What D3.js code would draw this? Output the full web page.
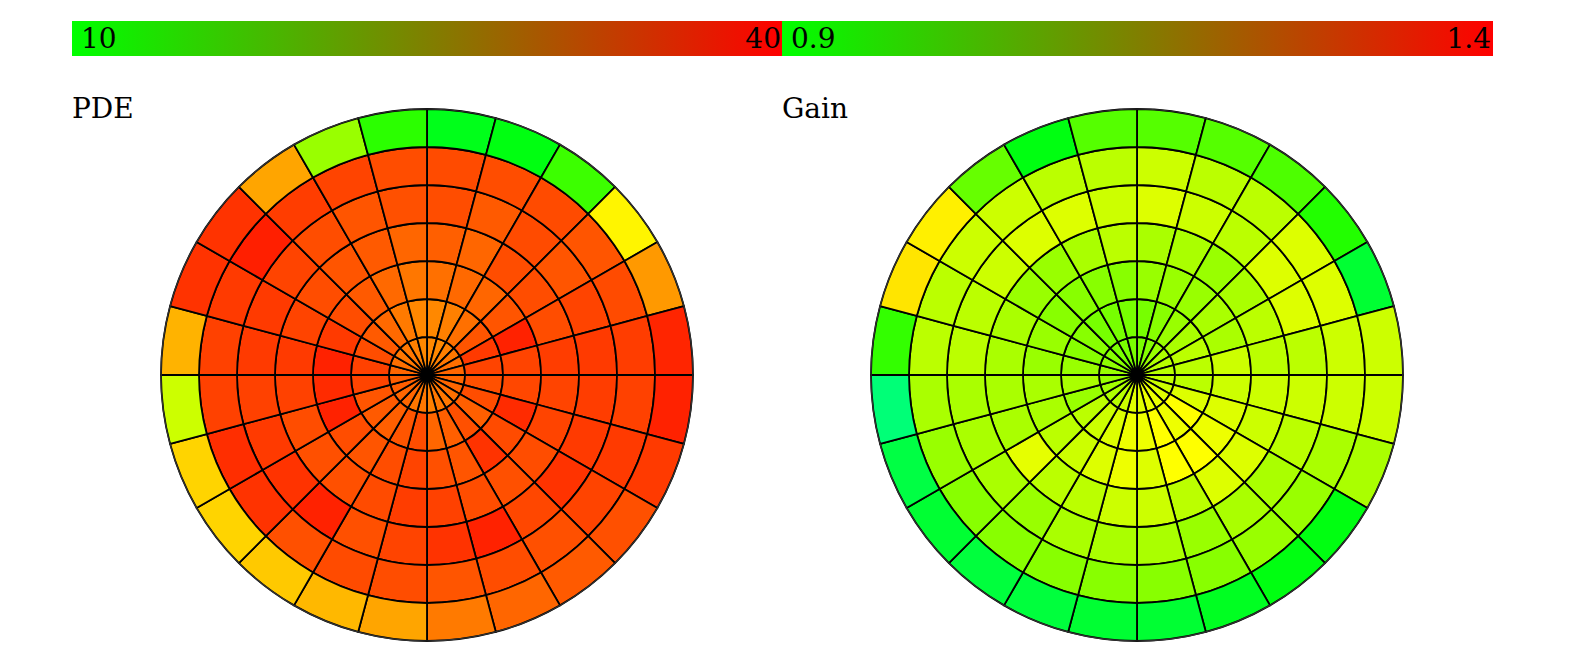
<!DOCTYPE html>
<html>
<head>
<meta charset="utf-8">
<script src="https://cdn.jsdelivr.net/npm/d3@7"></script>
<style>
  html, body { margin: 0; padding: 0; background: #fff; }
  svg { display: block; }
  text { font-family: "DejaVu Serif", serif; }
</style>
</head>
<body>
<svg id="chart" width="1585" height="658"></svg>
<script>
// 24 angular sectors (15° each, clockwise from 12 o'clock) and 7 radial rings (inner → outer)
const sectorCount = 24;
const ringCount = 7;

// PDE per ring, sectors 0..23
const pdeRing0 = [32, 32, 32.5, 33, 33.5, 34, 34, 34, 33.5, 33, 33, 32.5, 33, 33, 34, 34, 34.5, 34.5, 34, 33.5, 33, 33, 32.5, 32];
const pdeRing1 = [32, 32.5, 33.4, 35, 36.6, 36, 35.3, 35.5, 34.4, 35.3, 34.4, 34, 35.5, 35, 34.4, 34.7, 35, 36, 36.2, 35.5, 34.7, 33.8, 32.8, 32];
const pdeRing2 = [33.4, 33.8, 34, 35, 38, 36, 35.8, 37.5, 35.6, 37, 35, 35.3, 36, 35.5, 35, 35.5, 38, 37.5, 38, 36.6, 35.5, 34.7, 33.8, 33];
const pdeRing3 = [34.4, 34, 35.5, 35.5, 35.5, 36.4, 36, 36, 35.5, 35.3, 35.5, 36.2, 36.4, 35.6, 35.3, 35.3, 35.5, 36.2, 36.6, 36, 35.5, 35, 34.7, 34];
const pdeRing4 = [35.5, 34.7, 35.6, 35, 36, 36.6, 36.4, 36.6, 37, 35.8, 38, 37, 36, 35.3, 38, 37, 36.6, 36.2, 36.6, 36.6, 36, 35.5, 35, 35.3];
const pdeRing5 = [35.6, 35.5, 35.6, 35, 35.6, 36.4, 36.2, 36.6, 36, 35.3, 35.5, 35, 35.5, 35.6, 35.3, 37, 37.3, 36.2, 36.2, 36.6, 38.2, 36.4, 36, 35.5];
const pdeRing6 = [8.5, 9, 13.5, 25.6, 31, 37.8, 38, 36.6, 35.3, 34.7, 34, 32.8, 30.3, 29.2, 28.2, 27.5, 27.5, 22, 29.5, 37, 37, 30.3, 19, 12.5];

// Gain per ring, sectors 0..23
const gainRing0 = [1.02, 1.03, 1.05, 1.07, 1.08, 1.08, 1.09, 1.1, 1.12, 1.13, 1.13, 1.12, 1.12, 1.1, 1.08, 1.07, 1.06, 1.05, 1.05, 1.04, 1.03, 1.02, 1.02, 1.02];
const gainRing1 = [1.017, 1.033, 1.05, 1.067, 1.083, 1.083, 1.083, 1.117, 1.15, 1.133, 1.15, 1.133, 1.133, 1.117, 1.1, 1.083, 1.05, 1.067, 1.05, 1.033, 1.033, 1.017, 1.017, 1.017];
const gainRing2 = [1.05, 1.05, 1.05, 1.067, 1.067, 1.1, 1.1, 1.117, 1.133, 1.15, 1.15, 1.117, 1.133, 1.117, 1.1, 1.083, 1.067, 1.067, 1.05, 1.05, 1.033, 1.033, 1.033, 1.033];
const gainRing3 = [1.067, 1.067, 1.05, 1.067, 1.083, 1.083, 1.1, 1.1, 1.117, 1.117, 1.083, 1.1, 1.1, 1.083, 1.083, 1.125, 1.067, 1.067, 1.067, 1.067, 1.05, 1.05, 1.067, 1.083];
const gainRing4 = [1.117, 1.1, 1.083, 1.117, 1.117, 1.083, 1.1, 1.083, 1.067, 1.067, 1.05, 1.067, 1.067, 1.067, 1.05, 1.067, 1.067, 1.067, 1.083, 1.083, 1.1, 1.117, 1.117, 1.1];
const gainRing5 = [1.1, 1.083, 1.083, 1.117, 1.117, 1.1, 1.1, 1.067, 1.05, 1.05, 1.033, 1.033, 1.033, 1.033, 1.033, 1.033, 1.05, 1.067, 1.083, 1.083, 1.1, 1.1, 1.083, 1.083];
const gainRing6 = [0.983, 0.983, 0.975, 0.933, 0.85, 1.1, 1.1, 1.067, 0.883, 0.883, 0.867, 0.85, 0.85, 0.84, 0.84, 0.85, 0.833, 0.783, 0.95, 1.175, 1.165, 1.0, 0.883, 0.983];

// Colour-bar ranges and their tick labels
const pdeDomain = [10, 40];
const gainDomain = [0.9, 1.4];
const pdeTickLabels = ["10", "40"];
const gainTickLabels = ["0.9", "1.4"];
const titles = ["PDE", "Gain"];

const panels = [
  { title: titles[0], domain: pdeDomain, ticks: pdeTickLabels,
    rings: [pdeRing0, pdeRing1, pdeRing2, pdeRing3, pdeRing4, pdeRing5, pdeRing6],
    x0: 72, cx: 427 },
  { title: titles[1], domain: gainDomain, ticks: gainTickLabels,
    rings: [gainRing0, gainRing1, gainRing2, gainRing3, gainRing4, gainRing5, gainRing6],
    x0: 782, cx: 1137 }
];

const svg = d3.select("#chart");
const barWidth = 711, barTop = 21, barHeight = 35;
const cy = 375, outerR = 266;
const fontSize = 28;

const defs = svg.append("defs");
const grad = defs.append("linearGradient").attr("id", "barGrad")
  .attr("x1", "0%").attr("x2", "100%").attr("y1", "0%").attr("y2", "0%");
grad.append("stop").attr("offset", "0%").attr("stop-color", "#00ff00");
grad.append("stop").attr("offset", "100%").attr("stop-color", "#ff0000");

const rScale = d3.scaleLinear().domain([0, ringCount]).range([0, outerR]);
const aScale = d3.scaleLinear().domain([0, sectorCount]).range([0, 2 * Math.PI]);
const arc = d3.arc();

panels.forEach(p => {
  // hue runs green (120°) → yellow → red (0°) across the domain, extrapolating outside it
  const hue = d3.scaleLinear().domain(p.domain).range([120, 0]);
  const color = v => d3.hsl(hue(v), 1, 0.5).toString();

  // colour bar
  svg.append("rect")
    .attr("x", p.x0).attr("y", barTop)
    .attr("width", barWidth).attr("height", barHeight)
    .attr("fill", "url(#barGrad)");
  svg.append("text")
    .attr("x", p.x0 + 9).attr("y", barTop + 27)
    .attr("font-size", fontSize).attr("fill", "#000")
    .text(p.ticks[0]);
  svg.append("text")
    .attr("x", p.x0 + barWidth - 2).attr("y", barTop + 27)
    .attr("font-size", fontSize).attr("fill", "#000")
    .attr("text-anchor", "end")
    .text(p.ticks[1]);

  // title
  svg.append("text")
    .attr("x", p.x0).attr("y", 118)
    .attr("font-size", fontSize).attr("fill", "#000")
    .text(p.title);

  // polar heat map
  const cells = [];
  p.rings.forEach((ring, j) => ring.forEach((v, k) => cells.push({ j, k, v })));
  const g = svg.append("g").attr("transform", `translate(${p.cx},${cy})`);
  g.selectAll("path.cell").data(cells).join("path")
    .attr("class", "cell")
    .attr("d", d => arc({
      innerRadius: rScale(d.j), outerRadius: rScale(d.j + 1),
      startAngle: aScale(d.k), endAngle: aScale(d.k + 1)
    }))
    .attr("fill", d => color(d.v))
    .attr("stroke", "#000")
    .attr("stroke-width", 1.8)
    .attr("stroke-linejoin", "round");
  g.append("circle").attr("r", outerR)
    .attr("fill", "none").attr("stroke", "#333").attr("stroke-width", 1.2);
});
</script>
</body>
</html>
